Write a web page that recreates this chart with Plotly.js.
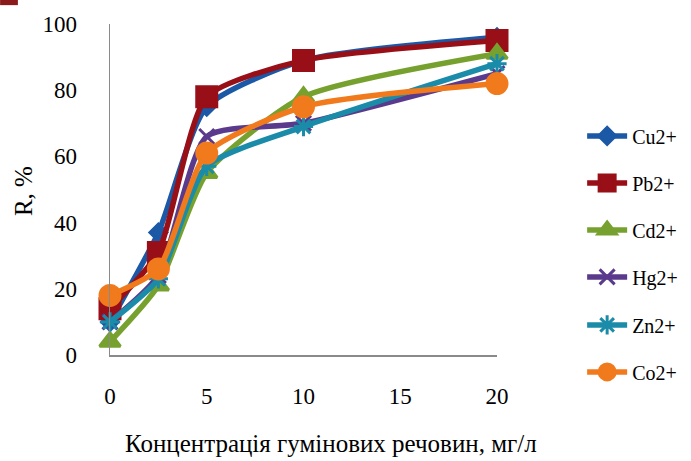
<!DOCTYPE html>
<html><head><meta charset="utf-8">
<script src="https://cdn.plot.ly/plotly-3.0.1.min.js"></script>
<style>html,body{margin:0;padding:0;background:#fff}#c{width:691px;height:461px}</style>
</head><body><div id="c"></div>
<script>
const conc = [0, 2.5, 5, 10, 20];
const names = ["Cu2+", "Pb2+", "Cd2+", "Hg2+", "Zn2+", "Co2+"];
const cu = [10, 37, 75, 89, 96];
const pb = [14, 31, 78, 89, 95];
const cd = [4, 21, 55, 78, 91];
const hg = [10, 24, 66, 70, 85];
const zn = [10, 23, 57, 69, 88];
const co = [18, 26, 61, 75, 82];
const xTicks = [0, 5, 10, 15, 20];
const yTicks = [0, 20, 40, 60, 80, 100];
const xTitle = "Концентрація гумінових речовин, мг/л";
const yTitle = "R, %";

const series = [cu, pb, cd, hg, zn, co];
const colors = ["#1B58A5", "#990F17", "#77A12E", "#5A3A8C", "#1A8BA8", "#F07A1C"];
const symbols = ["diamond", "square", "triangle-up", "x-thin-open", "asterisk-open", "circle"];
const sizes = [13, 20, 18, 15, 16, 20];
const legY = [0.662, 0.520, 0.378, 0.236, 0.091, -0.051];

const traces = series.map((s, i) => ({
  x: conc, y: s, name: names[i], type: "scatter", mode: "lines+markers",
  line: {color: colors[i], width: 5.5, shape: "spline", smoothing: 0.6},
  marker: {symbol: symbols[i], size: sizes[i], color: colors[i], line: {color: colors[i], width: 3}},
  cliponaxis: false,
  legend: i === 0 ? "legend" : "legend" + (i + 1)
}));

const fam = "Liberation Serif, Times New Roman, serif";
const tickFont = {family: fam, size: 23, color: "#000"};
const titleFont = {family: fam, size: 25, color: "#000"};
const legFont = {family: fam, size: 20, color: "#000"};
const layout = {
  width: 691, height: 461,
  margin: {l: 110, r: 194, t: 24, b: 106, autoexpand: false},
  paper_bgcolor: "#fff", plot_bgcolor: "#fff",
  font: tickFont,
  showlegend: true,
  xaxis: {
    range: [0, 20], tickvals: xTicks, ticktext: xTicks.map(String),
    showgrid: false, zeroline: false, showline: true, linecolor: "#8a8a8a", linewidth: 1.5,
    ticks: "", ticklabelstandoff: 20, tickfont: tickFont
  },
  yaxis: {
    range: [0, 100], tickvals: yTicks, ticktext: yTicks.map(String),
    showgrid: false, zeroline: false, showline: true, linecolor: "#8a8a8a", linewidth: 1.5,
    ticks: "", ticklabelstandoff: 27, tickfont: tickFont
  },
  annotations: [
    {text: xTitle, xref: "paper", yref: "paper", x: 0.571, y: -0.266,
     xanchor: "center", yanchor: "middle", showarrow: false, font: titleFont},
    {text: yTitle, xref: "paper", yref: "paper", x: -0.225, y: 0.495, textangle: -90,
     xanchor: "center", yanchor: "middle", showarrow: false, font: titleFont}
  ],
  shapes: [{type: "rect", xref: "paper", yref: "paper", x0: -0.284, x1: -0.238, y0: 1.057, y1: 1.0725,
            fillcolor: "#8B1A1A", line: {width: 0}}]
};
legY.forEach((y, i) => {
  const key = i === 0 ? "legend" : "legend" + (i + 1);
  layout[key] = {x: 1.22, y: y, xanchor: "left", yanchor: "middle", font: legFont,
                 bgcolor: "rgba(0,0,0,0)", itemwidth: 40};
});
Plotly.newPlot("c", traces, layout, {staticPlot: true, displayModeBar: false});
</script>
</body></html>
